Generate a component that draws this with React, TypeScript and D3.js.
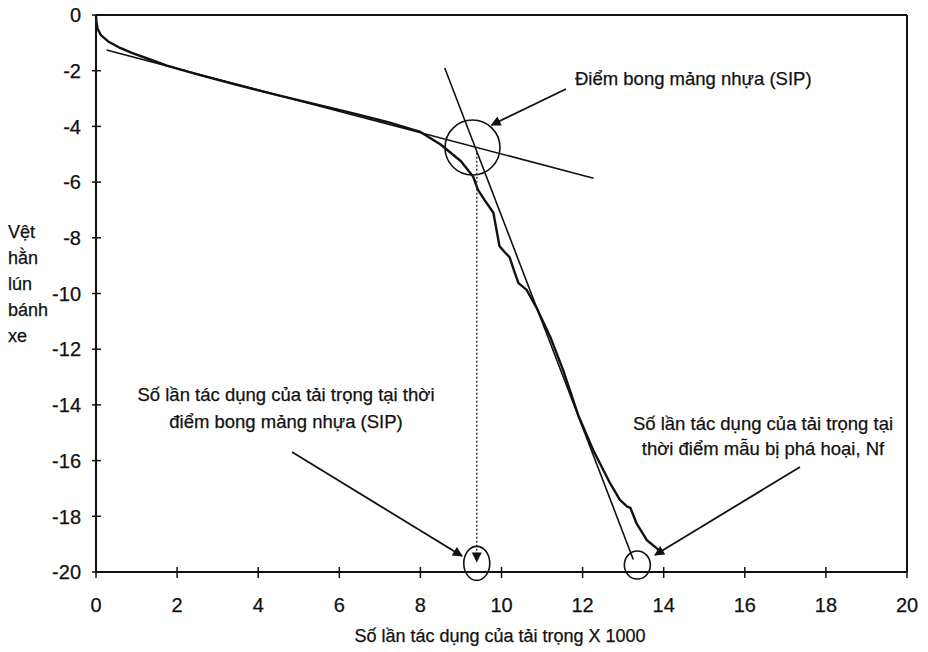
import React from "react";
import * as d3 from "d3";

// ---- data ----
const curveX = [0, 0.01, 0.04, 0.12, 0.3, 0.55, 0.9, 1.3, 1.75, 2.5, 3.4, 4.4, 5.4, 6.4, 7.2, 8.0, 8.5, 9.0, 9.3, 9.42, 9.58, 9.8, 9.95, 10.07, 10.2, 10.33, 10.42, 10.62, 10.87, 11.2, 11.52, 11.9, 12.26, 12.68, 12.92, 13.1, 13.18, 13.33, 13.58, 13.83, 13.95];
const curveY = [0, -0.25, -0.5, -0.72, -0.95, -1.15, -1.37, -1.58, -1.82, -2.13, -2.48, -2.85, -3.2, -3.55, -3.85, -4.2, -4.65, -5.25, -5.8, -6.28, -6.64, -7.1, -8.3, -8.5, -8.7, -9.27, -9.63, -9.87, -10.53, -11.55, -12.75, -14.4, -15.62, -16.82, -17.41, -17.65, -17.7, -18.25, -18.85, -19.15, -19.35];

const shallowLineX = [0.26, 12.27];
const shallowLineY = [-1.26, -5.86];
const steepLineX = [8.6, 13.25];
const steepLineY = [-1.9, -19.55];

const xTicks = [0, 2, 4, 6, 8, 10, 12, 14, 16, 18, 20];
const yTicks = [0, -2, -4, -6, -8, -10, -12, -14, -16, -18, -20];

const xTitle = "Số lần tác dụng của tải trọng X 1000";
const yTitleLines = ["Vệt", "hằn", "lún", "bánh", "xe"];
const sipLabel = "Điểm bong mảng nhựa (SIP)";
const sipCountLines = ["Số lần tác dụng của tải trọng tại thời", "điểm bong mảng nhựa (SIP)"];
const nfLines = ["Số lần tác dụng của tải trọng tại", "thời điểm mẫu bị phá hoại, Nf"];

const SIP_X = 9.39;
const NF_X = 13.35;

export default function App() {
  const W = 928, H = 652;
  const x = d3.scaleLinear().domain([0, 20]).range([96, 907]);
  const y = d3.scaleLinear().domain([0, -20]).range([15, 572]);
  const pts: [number, number][] = curveX.map((v, i) => [v, curveY[i]]);
  const line = d3.line<[number, number]>().x(d => x(d[0])).y(d => y(d[1]));
  const font = "'Liberation Sans', Arial, sans-serif";
  const txt = { fontFamily: font, fill: "#111", stroke: "#111", strokeWidth: 0.25 } as any;

  return (
    <svg width={W} height={H} style={{ position: "absolute", left: 0, top: 0, background: "#fff" }}>
      <defs>
        <marker id="ah" viewBox="0 0 10 10" refX="9" refY="5" markerWidth="14" markerHeight="10" markerUnits="userSpaceOnUse" orient="auto">
          <path d="M0,0 L10,5 L0,10 z" fill="#111" />
        </marker>
      </defs>
      <rect x={0} y={0} width={W} height={H} fill="#fff" />
      {/* frame */}
      <line x1={x(0)} x2={x(20)} y1={y(0)} y2={y(0)} stroke="#111" strokeWidth={2} />
      <line x1={x(20)} x2={x(20)} y1={y(0)} y2={y(-20)} stroke="#111" strokeWidth={2} />
      {/* axes */}
      <line x1={x(0)} x2={x(0)} y1={y(0)} y2={y(-20)} stroke="#111" strokeWidth={2} />
      <line x1={x(0)} x2={x(20)} y1={y(-20)} y2={y(-20)} stroke="#111" strokeWidth={2} />
      {yTicks.map(t => (
        <g key={"y" + t}>
          <line x1={x(0) - 4} x2={x(0) + 5} y1={y(t)} y2={y(t)} stroke="#111" strokeWidth={1.5} />
          <text x={81} y={y(t)} dy="0.36em" textAnchor="end" fontSize={20} style={txt}>{t}</text>
        </g>
      ))}
      {xTicks.map(t => (
        <g key={"x" + t}>
          <line x1={x(t)} x2={x(t)} y1={y(-20) - 5} y2={y(-20) + 6} stroke="#111" strokeWidth={1.5} />
          <text x={x(t)} y={612} textAnchor="middle" fontSize={20} style={txt}>{t}</text>
        </g>
      ))}
      <text x={500} y={642} textAnchor="middle" fontSize={18} style={txt}>{xTitle}</text>
      {yTitleLines.map((s, i) => (
        <text key={s} x={8} y={238 + i * 26} fontSize={18} style={txt}>{s}</text>
      ))}

      {/* tangent lines */}
      <line x1={x(shallowLineX[0])} y1={y(shallowLineY[0])} x2={x(shallowLineX[1])} y2={y(shallowLineY[1])} stroke="#111" strokeWidth={1.6} />
      <line x1={x(steepLineX[0])} y1={y(steepLineY[0])} x2={x(steepLineX[1])} y2={y(steepLineY[1])} stroke="#111" strokeWidth={1.6} />
      {/* curve */}
      <path d={line(pts) || ""} fill="none" stroke="#111" strokeWidth={2.4} strokeLinejoin="round" />

      {/* SIP annotation */}
      <circle cx={x(9.285)} cy={y(-4.76)} r={27.5} fill="none" stroke="#111" strokeWidth={1.6} />
      <line x1={566} y1={89} x2={491.5} y2={125} stroke="#111" strokeWidth={1.8} markerEnd="url(#ah)" />
      <text x={575} y={85} fontSize={18.5} style={txt}>{sipLabel}</text>

      {/* vertical dotted line to SIP count */}
      <line x1={x(SIP_X)} x2={x(SIP_X)} y1={y(-4.95)} y2={y(-19.62)} stroke="#333" strokeWidth={1.4} strokeDasharray="2,2" markerEnd="url(#ah)" />
      <ellipse cx={x(SIP_X)} cy={y(-19.69)} rx={13} ry={17} fill="none" stroke="#111" strokeWidth={1.6} />
      <line x1={292} y1={452} x2={462} y2={556} stroke="#111" strokeWidth={1.8} markerEnd="url(#ah)" />
      {sipCountLines.map((s, i) => (
        <text key={s} x={286} y={401 + i * 27} textAnchor="middle" fontSize={18.5} style={txt}>{s}</text>
      ))}

      {/* Nf annotation */}
      <ellipse cx={x(NF_X)} cy={y(-19.75)} rx={13} ry={14} fill="none" stroke="#111" strokeWidth={1.6} />
      <line x1={800} y1={467} x2={655} y2={555} stroke="#111" strokeWidth={1.8} markerEnd="url(#ah)" />
      {nfLines.map((s, i) => (
        <text key={s} x={763} y={430 + i * 25} textAnchor="middle" fontSize={18.5} style={txt}>{s}</text>
      ))}
    </svg>
  );
}
